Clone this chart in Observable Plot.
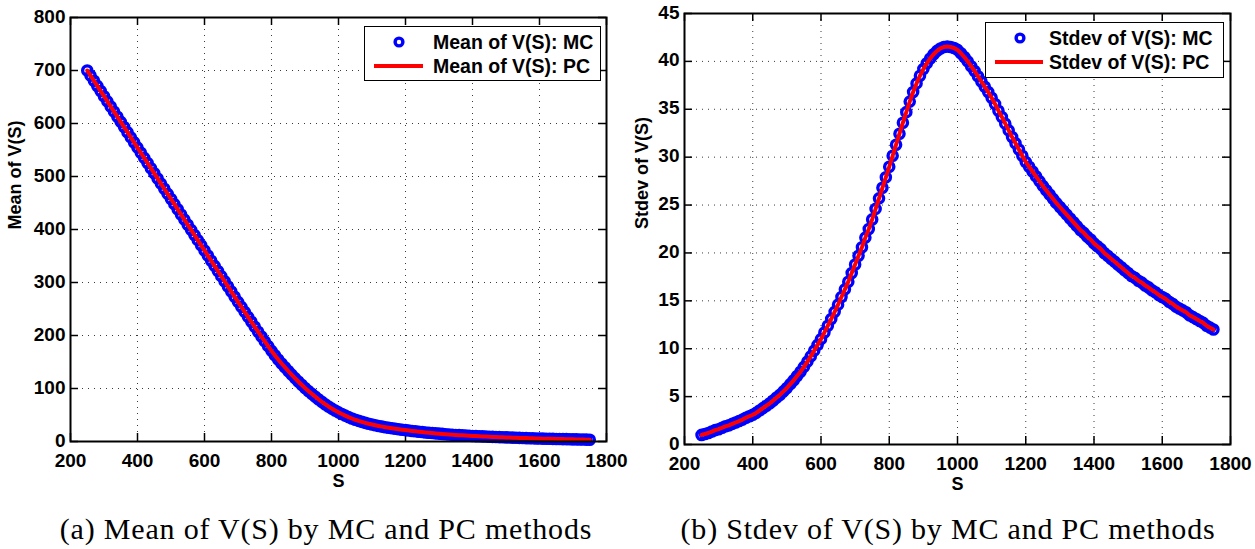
<!DOCTYPE html>
<html>
<head>
<meta charset="utf-8">
<script src="https://cdn.jsdelivr.net/npm/d3@7"></script>
<script src="https://cdn.jsdelivr.net/npm/@observablehq/plot@0.6"></script>
<style>
  html, body { margin: 0; padding: 0; background: #fff; }
  #wrap { position: relative; width: 1255px; height: 549px; overflow: hidden; background: #fff; }
  .panel { position: absolute; top: 0; }
  .panel svg { display: block; }
  .lgbox { position: absolute; background: #fff; border: 1.5px solid #000; box-sizing: border-box; }
  .lgtext { position: absolute; font: bold 19.5px "Liberation Sans", Arial, sans-serif; color: #000; white-space: nowrap; line-height: 20px; }
  .caption { position: absolute; width: 640px; text-align: center; font: 30px "Liberation Serif", "Times New Roman", serif; line-height: 30px; letter-spacing: 0.8px; color: #000; white-space: nowrap; }
</style>
</head>
<body>
<div id="wrap"></div>
<script>
// ---- data ----
const S = [250,260,270,280,290,300,310,320,330,340,350,360,370,380,390,400,410,420,430,440,
  450,460,470,480,490,500,510,520,530,540,550,560,570,580,590,600,610,620,630,640,
  650,660,670,680,690,700,710,720,730,740,750,760,770,780,790,800,810,820,830,840,
  850,860,870,880,890,900,910,920,930,940,950,960,970,980,990,1000,1010,1020,1030,1040,
  1050,1060,1070,1080,1090,1100,1110,1120,1130,1140,1150,1160,1170,1180,1190,1200,1210,1220,1230,1240,
  1250,1260,1270,1280,1290,1300,1310,1320,1330,1340,1350,1360,1370,1380,1390,1400,1410,1420,1430,1440,
  1450,1460,1470,1480,1490,1500,1510,1520,1530,1540,1550,1560,1570,1580,1590,1600,1610,1620,1630,1640,
  1650,1660,1670,1680,1690,1700,1710,1720,1730,1740,1750];

const meanV = [700,690.3,680.6,670.9,661.2, 651.5,641.8,632.1,622.4,612.7, 603,593.3,583.6,573.9,564.2,
  554.5,544.8,535.1,525.4,515.7, 506,496.3,486.6,476.9,467.2, 457.5,447.8,438.1,428.4,418.7,
  409,399.3,389.6,379.9,370.2, 360.5,350.8,341.1,331.4,321.7, 312,302.3,292.6,282.9,273.2,
  263.5,254,244.5,235.1,225.8, 216.5,207.2,198,188.9,179.9, 171,162.7,154.8,147.2,140,
  133,126.2,119.6,113.2,107, 101,95.4,90,84.8,79.8, 75,70.4,66.1,62.1,58.4,
  55,51.8,48.8,46,43.4, 41,38.9,37,35.2,33.5, 32,30.6,29.3,28.1,27,
  26,25,24.1,23.2,22.3, 21.5,20.7,19.9,19.2,18.5, 17.8,17.1,16.5,15.9,15.3,
  14.8,14.3,13.8,13.3,12.8, 12.4,12,11.6,11.2,10.8, 10.5,10.2,9.9,9.6,9.3,
  9,8.7,8.5,8.2,8, 7.7,7.5,7.3,7.1,6.8, 6.6,6.4,6.2,6,5.8,
  5.6,5.4,5.3,5.1,5, 4.8,4.7,4.5,4.4,4.2, 4.1,4,3.8,3.7,3.5, 3.4];

const stdevV = [1.0,1.1,1.2,1.35,1.5, 1.6,1.75,1.9,2.0,2.15, 2.3,2.45,2.6,2.8,2.95,
  3.1,3.3,3.55,3.8,4.05, 4.3,4.6,4.9,5.2,5.55, 5.9,6.3,6.7,7.15,7.6,
  8.1,8.65,9.2,9.8,10.4, 11,11.7,12.4,13.1,13.85, 14.6,15.4,16.2,17,17.9,
  18.8,19.7,20.6,21.6,22.5, 23.5,24.6,25.7,26.8,27.9, 29,30.15,31.3,32.45,33.6,
  34.7,35.8,36.8,37.7,38.5, 39.2,39.8,40.3,40.75,41.1, 41.35,41.5,41.55,41.5,41.4,
  41.2,40.85,40.45,40,39.5, 39,38.45,37.9,37.35,36.8, 36.2,35.55,34.85,34.2,33.5,
  32.8,32.1,31.45,30.8,30.15, 29.5,29,28.5,28,27.5, 27,26.55,26.1,25.65,25.2,
  24.8,24.4,24,23.6,23.2, 22.8,22.4,22.1,21.7,21.4, 21,20.7,20.4,20,19.7,
  19.4,19.1,18.8,18.5,18.2, 17.9,17.6,17.4,17.1,16.9, 16.6,16.4,16.1,15.9,15.6,
  15.4,15.2,14.9,14.7,14.4, 14.2,14,13.8,13.5,13.3, 13.1,12.9,12.7,12.4,12.2, 12];

const xTicks = [200,400,600,800,1000,1200,1400,1600,1800];
const meanTicks = [0,100,200,300,400,500,600,700,800];
const stdevTicks = [0,5,10,15,20,25,30,35,40,45];

const meanLegend = ["Mean of V(S): MC", "Mean of V(S): PC"];
const stdevLegend = ["Stdev of V(S): MC", "Stdev of V(S): PC"];
const captions = ["(a) Mean of V(S) by MC and PC methods", "(b) Stdev of V(S) by MC and PC methods"];
const yTitles = ["Mean of V(S)", "Stdev of V(S)"];
const xTitle = "S";

// ---- table built from the arrays ----
const rows = S.map((s, i) => ({S: s, mean: meanV[i], stdev: stdevV[i]}));

const FONT = "'Liberation Sans', Arial, Helvetica, sans-serif";
const wrap = document.getElementById("wrap");
const fmt = d => String(d);

function panel(o) {
  const fw = o.width - o.ml - o.mr;
  const fh = o.height - o.mt - o.mb;
  const gridStyle = {stroke: "#3a3a3a", strokeOpacity: 1, strokeWidth: 1, strokeDasharray: "1,5"};
  const svg = Plot.plot({
    width: o.width,
    height: o.height,
    marginLeft: o.ml, marginRight: o.mr, marginTop: o.mt, marginBottom: o.mb,
    x: {type: "linear", domain: [200, 1800], label: null},
    y: {type: "linear", domain: o.yDomain, label: null},
    style: {fontFamily: FONT, fontWeight: "bold", fontSize: "19px", background: "transparent", color: "#000", overflow: "visible"},
    marks: [
      Plot.gridX(xTicks, gridStyle),
      Plot.gridY(o.yTicks, gridStyle),
      Plot.tickX(xTicks, {x: d => d, insetTop: fh - 8, stroke: "#000", strokeWidth: 1.5}),
      Plot.tickX(xTicks, {x: d => d, insetBottom: fh - 8, stroke: "#000", strokeWidth: 1.5}),
      Plot.tickY(o.yTicks, {y: d => d, insetRight: fw - 8, stroke: "#000", strokeWidth: 1.5}),
      Plot.tickY(o.yTicks, {y: d => d, insetLeft: fw - 8, stroke: "#000", strokeWidth: 1.5}),
      Plot.axisX(xTicks, {tickSize: 0, tickPadding: 12, label: null, fill: "#000", tickFormat: fmt}),
      Plot.axisY(o.yTicks, {tickSize: 0, tickPadding: 5, dy: -1, label: null, fill: "#000", tickFormat: fmt}),
      Plot.dot(rows, {x: "S", y: o.key, r: 4.6, stroke: "#0000ff", strokeWidth: 3.4, fill: "none"}),
      Plot.line(rows, {x: "S", y: o.key, stroke: "#ff0000", strokeWidth: 4}),
      Plot.frame({stroke: "#000", strokeWidth: 2}),
      Plot.text([o.yTitle], {text: d => d, frameAnchor: "left", dx: -o.titleOffset, rotate: -90, fontSize: 18, fill: "#000"}),
      Plot.text([xTitle], {text: d => d, frameAnchor: "bottom", dy: 45, fontSize: 18, fill: "#000"})
    ]
  });
  const div = document.createElement("div");
  div.className = "panel";
  div.style.left = o.left + "px";
  div.style.width = o.width + "px";
  div.appendChild(svg);
  wrap.appendChild(div);
}

panel({left: 0, width: 630, height: 500, ml: 70, mr: 24, mt: 17, mb: 59,
  key: "mean", yDomain: [0, 800], yTicks: meanTicks, yTitle: yTitles[0], titleOffset: 55});
panel({left: 630, width: 625, height: 500, ml: 54, mr: 25, mt: 13, mb: 56,
  key: "stdev", yDomain: [0, 45], yTicks: stdevTicks, yTitle: yTitles[1], titleOffset: 42});

// ---- legends ----
function legend(box, labels, symX, lineX1, lineX2, textX, row1, row2) {
  const b = document.createElement("div");
  b.className = "lgbox";
  Object.assign(b.style, {left: box[0] + "px", top: box[1] + "px", width: (box[2] - box[0]) + "px", height: (box[3] - box[1]) + "px"});
  wrap.appendChild(b);
  const ns = "http://www.w3.org/2000/svg";
  const s = document.createElementNS(ns, "svg");
  s.setAttribute("width", 1255); s.setAttribute("height", 549);
  s.style.position = "absolute"; s.style.left = "0px"; s.style.top = "0px"; s.style.pointerEvents = "none";
  const c = document.createElementNS(ns, "circle");
  c.setAttribute("cx", symX); c.setAttribute("cy", row1); c.setAttribute("r", 3.9);
  c.setAttribute("fill", "none"); c.setAttribute("stroke", "#0000ff"); c.setAttribute("stroke-width", 3.4);
  s.appendChild(c);
  const l = document.createElementNS(ns, "line");
  l.setAttribute("x1", lineX1); l.setAttribute("x2", lineX2); l.setAttribute("y1", row2); l.setAttribute("y2", row2);
  l.setAttribute("stroke", "#ff0000"); l.setAttribute("stroke-width", 4);
  s.appendChild(l);
  wrap.appendChild(s);
  [[labels[0], row1], [labels[1], row2]].forEach(([t, y]) => {
    const d = document.createElement("div");
    d.className = "lgtext";
    d.textContent = t;
    d.style.left = textX + "px";
    d.style.top = (y - 10) + "px";
    wrap.appendChild(d);
  });
}
legend([364, 26, 601, 81], meanLegend, 399, 374, 423, 433, 42, 66);
legend([985, 22, 1224, 78], stdevLegend, 1020, 995, 1043, 1049, 38, 62);

// ---- captions ----
[[captions[0], 326], [captions[1], 948]].forEach(([t, cx]) => {
  const d = document.createElement("div");
  d.className = "caption";
  d.textContent = t;
  d.style.left = (cx - 320) + "px";
  d.style.top = "514px";
  wrap.appendChild(d);
});
</script>
</body>
</html>
